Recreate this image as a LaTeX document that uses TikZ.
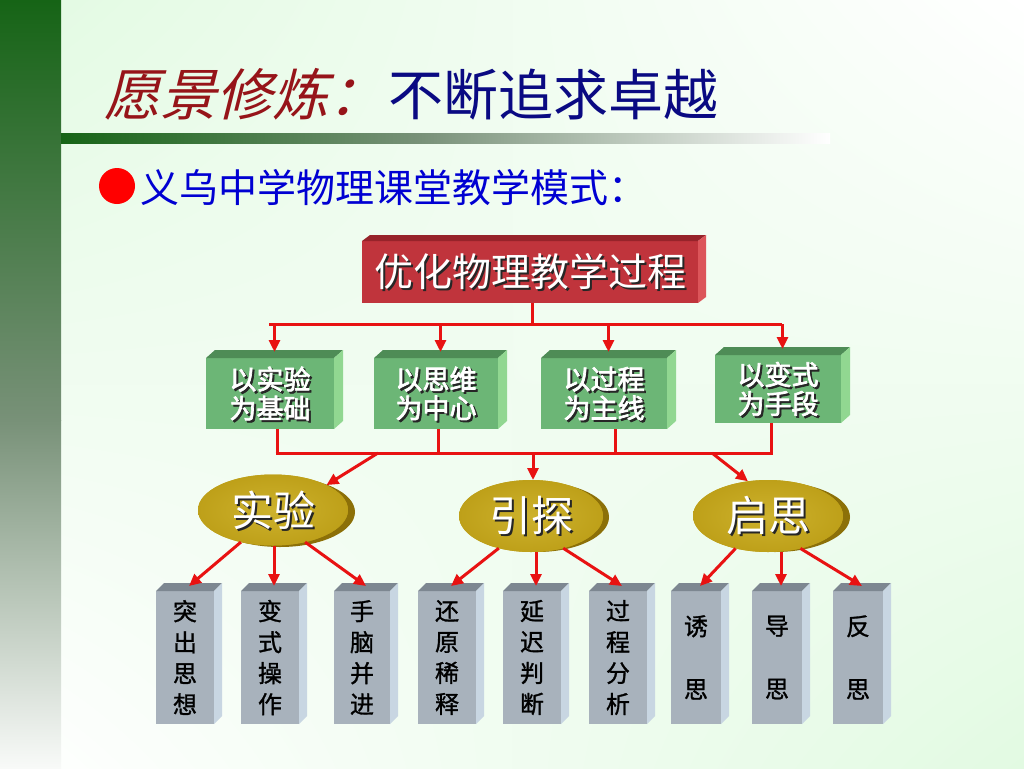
\documentclass[tikz,border=0pt]{standalone}
\usepackage{fontspec}
\usetikzlibrary{calc,arrows.meta,shapes.geometric,shadings}
\newfontfamily\cjk{Noto Sans CJK SC}
\newfontfamily\cjkb[FakeBold=2.5]{Noto Sans CJK SC}
\newfontfamily\cjkm[FakeBold=1.2]{Noto Sans CJK SC}
\newfontfamily\cjksl[FakeSlant=0.25]{Noto Sans CJK SC}
\definecolor{redF}{RGB}{192,52,60}
\definecolor{redT}{RGB}{150,35,42}
\definecolor{redS}{RGB}{220,85,90}
\definecolor{grnF}{RGB}{108,182,118}
\definecolor{grnT}{RGB}{78,140,86}
\definecolor{grnS}{RGB}{145,215,145}
\definecolor{gryF}{RGB}{168,178,188}
\definecolor{gryT}{RGB}{125,135,145}
\definecolor{gryS}{RGB}{200,214,226}
\definecolor{gold}{RGB}{190,160,25}
\definecolor{goldL}{RGB}{205,178,45}
\definecolor{goldD}{RGB}{140,112,8}
\definecolor{lineR}{RGB}{232,18,18}
\definecolor{mint}{RGB}{226,250,226}
\definecolor{barTop}{RGB}{22,100,22}
\definecolor{barMid}{RGB}{120,145,120}
\definecolor{barBot}{RGB}{248,250,248}
\definecolor{titleRed}{RGB}{150,20,25}
\definecolor{titleBlue}{RGB}{10,10,130}
\definecolor{subBlue}{RGB}{0,0,210}
\newcommand\cubefaces[5]{%
  \fill[#4] (#1.north west) -- ++(#2,#3) -- ($(#1.north east)+(#2,#3)$) -- (#1.north east) -- cycle;
  \fill[#5] (#1.north east) -- ++(#2,#3) -- ($(#1.south east)+(#2,#3)$) -- (#1.south east) -- cycle;}
\newcommand\shadowtext[3]{% #1 position, #2 font, #3 text
  \node[text=black!85, font=#2, align=center, inner sep=0pt] at ($#1+(2,2)$) {#3};
  \node[text=white, font=#2, align=center, inner sep=0pt] at #1 {#3};}
\begin{document}
\begin{tikzpicture}[x=1pt,y=-1pt,
  front/.style={inner sep=0pt, outer sep=0pt, anchor=north west},
  conn/.style={draw=lineR, line width=3pt},
  arr/.style={draw=lineR, line width=3pt, -{Triangle[length=12pt,width=11pt]}},
  oval/.style={ellipse, fill=gold, inner sep=0pt, outer sep=0pt}]
\useasboundingbox (0,0) rectangle (1024,768);
% background
\shade[upper left=mint, upper right=white, lower left=white, lower right=mint] (0,0) rectangle (1024,768);
\shade[top color=barTop, bottom color=barMid] (0,0) rectangle (61,420);
\shade[top color=barMid, bottom color=barBot] (0,420) rectangle (61,768);
\shade[left color=barTop, right color=barMid] (61,133) rectangle (420,143);
\shade[left color=barMid, right color=white] (420,133) rectangle (830,143);
% title
\node[anchor=base west, inner sep=0pt, text=titleRed, font=\cjksl\fontsize{56}{60}\selectfont] (t1) at (104,115) {愿景修炼：};
\node[anchor=base west, inner sep=0pt, text=titleBlue, font=\cjk\fontsize{55}{60}\selectfont] (t2) at (388,115) {不断追求卓越};
% subtitle
\node[circle, fill=red, minimum size=36pt, inner sep=0pt] (bul) at (117,186) {};
\node[anchor=base west, inner sep=0pt, text=subBlue, font=\cjk\fontsize{39}{42}\selectfont] (sub) at (140,202) {义乌中学物理课堂教学模式：};
% top red box
\node[front, fill=redF, minimum width=336pt, minimum height=62pt] (top) at (362,241) {};
\cubefaces{top}{8}{-6}{redT}{redS}
\shadowtext{(top.center)}{\cjk\fontsize{39}{42}\selectfont}{优化物理教学过程}
% green boxes
\node[front, fill=grnF, minimum width=128pt, minimum height=71pt] (g1) at (206,358) {};
\node[front, fill=grnF, minimum width=124pt, minimum height=71pt] (g2) at (374,358) {};
\node[front, fill=grnF, minimum width=126pt, minimum height=71pt] (g3) at (541,358) {};
\node[front, fill=grnF, minimum width=126pt, minimum height=68pt] (g4) at (715,355) {};
\foreach \g in {g1,g2,g3,g4}{\cubefaces{\g}{9}{-8}{grnT}{grnS}}
\shadowtext{(g1.center)}{\cjkb\fontsize{27}{29}\selectfont}{以实验\\为基础}
\shadowtext{(g2.center)}{\cjkb\fontsize{27}{29}\selectfont}{以思维\\为中心}
\shadowtext{(g3.center)}{\cjkb\fontsize{27}{29}\selectfont}{以过程\\为主线}
\shadowtext{(g4.center)}{\cjkb\fontsize{27}{29}\selectfont}{以变式\\为手段}
% connectors top -> green
\coordinate (hb) at (532,324);
\coordinate (hl) at (269,324);
\coordinate (hr) at (782,324);
\draw[conn] (top.south -| hb) -- (hb);
\draw[conn] (hl) -- (hr);
\foreach \g in {g1,g2,g3,g4}{
  \coordinate (\g t) at ($(\g.north)+(4.5,-6)$);
  \draw[arr] (\g t |- hl) -- (\g t);}
% green -> collecting line
\coordinate (d1) at (277,453);
\coordinate (d2) at (438,453);
\coordinate (d3) at (615,453);
\coordinate (d4) at (771,453);
\draw[conn] (d1 |- g1.south) -- (d1);
\draw[conn] (d2 |- g2.south) -- (d2);
\draw[conn] (d3 |- g3.south) -- (d3);
\draw[conn] (d4 |- g4.south) -- (d4);
\draw[conn] ($(d1)+(-1.5,0)$) -- ($(d4)+(1.5,0)$);
% ellipses
\fill[goldD] (280,512) ellipse[x radius=75pt, y radius=35pt];
\node[oval, minimum width=150pt, minimum height=71pt, inner color=goldL, outer color=gold] (e1) at (273,510) {};
\fill[goldD] (537,517) ellipse[x radius=72pt, y radius=35pt];
\node[oval, minimum width=144pt, minimum height=72pt, inner color=goldL, outer color=gold] (e2) at (531,516) {};
\fill[goldD] (775,517) ellipse[x radius=75pt, y radius=35pt];
\node[oval, minimum width=150pt, minimum height=72pt, inner color=goldL, outer color=gold] (e3) at (768,516) {};
\shadowtext{(e1.center)}{\cjk\fontsize{42}{44}\selectfont}{实验}
\shadowtext{(e2.center)}{\cjk\fontsize{42}{44}\selectfont}{引探}
\shadowtext{(e3.center)}{\cjk\fontsize{42}{44}\selectfont}{启思}
% collecting line -> ellipses
\coordinate (u1) at (378,453);
\coordinate (u2) at (533,453);
\coordinate (u3) at (712,453);
\draw[arr] (u1) -- (e1.25);
\draw[arr] (u2) -- (u2 |- e2.north);
\draw[arr] (u3) -- (e3.120);
% gray boxes
\node[front, fill=gryF, minimum width=58pt, minimum height=133pt] (k1) at (156,591) {};
\node[front, fill=gryF, minimum width=58pt, minimum height=133pt] (k2) at (241,591) {};
\node[front, fill=gryF, minimum width=56pt, minimum height=133pt] (k3) at (334,591) {};
\node[front, fill=gryF, minimum width=58pt, minimum height=133pt] (k4) at (418,591) {};
\node[front, fill=gryF, minimum width=58pt, minimum height=133pt] (k5) at (503,591) {};
\node[front, fill=gryF, minimum width=58pt, minimum height=133pt] (k6) at (589,591) {};
\node[front, fill=gryF, minimum width=50pt, minimum height=133pt] (k7) at (671,591) {};
\node[front, fill=gryF, minimum width=50pt, minimum height=133pt] (k8) at (752,591) {};
\node[front, fill=gryF, minimum width=50pt, minimum height=133pt] (k9) at (833,591) {};
\foreach \k in {k1,k2,k3,k4,k5,k6,k7,k8,k9}{
  \cubefaces{\k}{8}{-8}{gryT}{gryS}
  \coordinate (\k t) at ($(\k.north)+(4,-5)$);}
\tikzset{gtxt/.style={inner sep=0pt, align=center, text=black, font=\cjkm\fontsize{24}{31}\selectfont}}
\node[gtxt] (x1) at (k1.center) {突\\出\\思\\想};
\node[gtxt] (x2) at (k2.center) {变\\式\\操\\作};
\node[gtxt] (x3) at (k3.center) {手\\脑\\并\\进};
\node[gtxt] (x4) at (k4.center) {还\\原\\稀\\释};
\node[gtxt] (x5) at (k5.center) {延\\迟\\判\\断};
\node[gtxt] (x6) at (k6.center) {过\\程\\分\\析};
\node[gtxt, font=\cjkm\fontsize{24}{33}\selectfont] (x7) at (k7.center) {诱\\[30pt]思};
\node[gtxt, font=\cjkm\fontsize{24}{33}\selectfont] (x8) at (k8.center) {导\\[30pt]思};
\node[gtxt, font=\cjkm\fontsize{24}{33}\selectfont] (x9) at (k9.center) {反\\[30pt]思};
% ellipses -> gray boxes
\draw[arr] (e1.225) -- (k1t);
\draw[arr] (k2t |- e1.south) -- (k2t);
\draw[arr] (e1.315) -- (k3t);
\draw[arr] (e2.225) -- (k4t);
\draw[arr] (k5t |- e2.south) -- (k5t);
\draw[arr] (e2.315) -- (k6t);
\draw[arr] (e3.225) -- (k7t);
\draw[arr] (k8t |- e3.south) -- (k8t);
\draw[arr] (e3.315) -- (k9t);
\end{tikzpicture}
\end{document}
